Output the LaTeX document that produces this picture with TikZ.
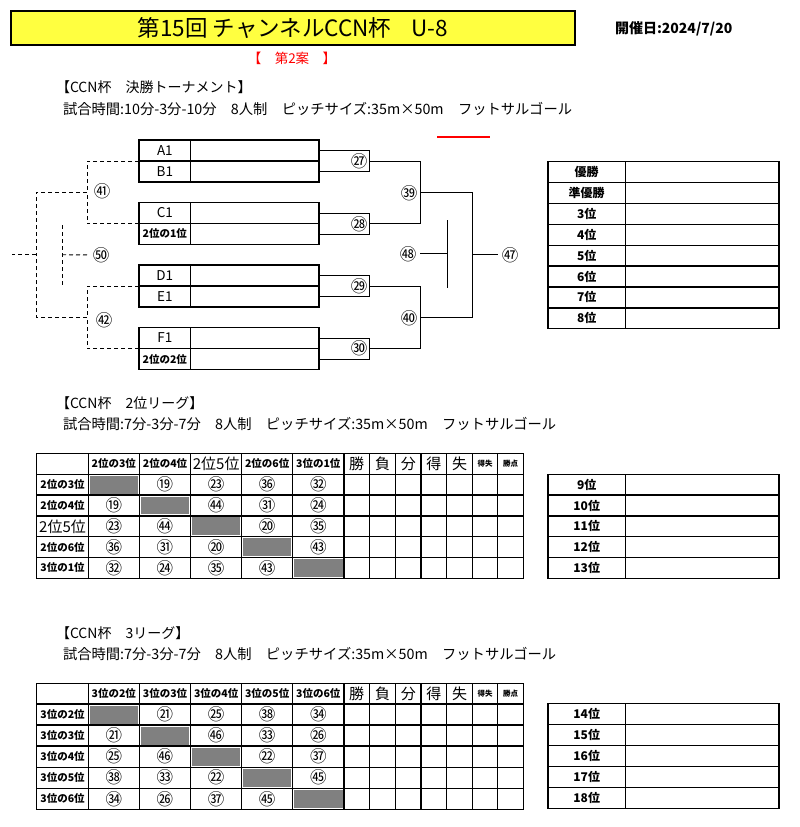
\documentclass[tikz,border=0pt]{standalone}
\usepackage{fontspec}
\setmainfont{Noto Sans CJK JP}
\newcommand\fs[1]{\fontsize{#1}{#1}\selectfont}
\definecolor{ttlyellow}{RGB}{255,255,64}
\definecolor{cellgray}{RGB}{128,128,128}
\begin{document}
\begin{tikzpicture}[x=1pt,y=-1pt,
  every node/.style={inner sep=0pt,outer sep=0pt},
  tlab/.style={draw,line width=1.5pt,minimum width=51.7pt,minimum height=21pt,font=\fs{13.5}},
  tblank/.style={draw,line width=1.5pt,minimum width=128.3pt,minimum height=21pt},
  slab/.style={draw,line width=1.4pt,minimum width=77.4pt,font=\fs{12}\bfseries},
  sblank/.style={draw,line width=1.4pt,minimum width=153.6pt},
  num/.style={font=\fs{16.5},inner sep=1pt},
  br/.style={line width=0.9pt},
  dsh/.style={line width=0.9pt,dash pattern=on 4pt off 3pt},
  tl/.style={line width=1.3pt},
  hd/.style={font=\fs{10.5}\bfseries},
  hb/.style={font=\fs{15}},
  hs/.style={font=\fs{7.5}\bfseries},
  txt/.style={anchor=west,font=\fs{14}},
  txtb/.style={anchor=west,font=\fs{14.3}}]
\useasboundingbox (0,0) rectangle (800,827);
\fill[white] (0,0) rectangle (800,827);

% ---------- title ----------
\node[draw,line width=1.2pt,fill=ttlyellow,minimum width=564pt,minimum height=34pt,font=\fs{22.5}] (title) at (293,28) {第15回 チャンネルCCN杯\hspace{0.9em}U-8};
\node[anchor=west,font=\fs{14}\bfseries] (date) at (615,28.5) {開催日:2024/7/20};
\node[text=red,font=\fs{13.5}] (plan) at (292,58) {【　第2案　】};
\draw[red,line width=2pt] (437,137) -- (490,137);

\node[txt] (h1) at (56,87) {【CCN杯　決勝トーナメント】};
\node[txtb] (h1b) at (63,109) {試合時間:10分-3分-10分　8人制　ピッチサイズ:35m×50m　フットサルゴール};

% ---------- tournament boxes ----------
\foreach \n/\y in {A1/150.5,B1/171.5,C1/213,D1/275.5,E1/296.5,F1/338}
  {\node[tlab] (L\n) at (164.85,\y) {\n};
   \node[tblank] (B\n) at (254.85,\y) {};}
\node[tlab,font=\fs{10.5}\bfseries] (LW1) at (164.85,234) {2位の1位};
\node[tblank] (BW1) at (254.85,234) {};
\node[tlab,font=\fs{10.5}\bfseries] (LW2) at (164.85,359) {2位の2位};
\node[tblank] (BW2) at (254.85,359) {};

% right bracket
\coordinate (k27) at (369,161);
\coordinate (k28) at (369,223.5);
\coordinate (k29) at (369,286);
\coordinate (k30) at (369,348.5);
\coordinate (k39) at (420,192.25);
\coordinate (k40) at (420,317.25);
\coordinate (k47) at (472,254.75);
\draw[br] (BA1.east) -| (k27); \draw[br] (BB1.east) -| (k27);
\draw[br] (BC1.east) -| (k28); \draw[br] (BW1.east) -| (k28);
\draw[br] (BD1.east) -| (k29); \draw[br] (BE1.east) -| (k29);
\draw[br] (BF1.east) -| (k30); \draw[br] (BW2.east) -| (k30);
\draw[br] (k27) -| (k39); \draw[br] (k28) -| (k39);
\draw[br] (k29) -| (k40); \draw[br] (k30) -| (k40);
\draw[br] (k39) -| (k47); \draw[br] (k40) -| (k47);
\node[num] (m27) at (359,161) {㉗};
\node[num] (m28) at (359,224) {㉘};
\node[num] (m29) at (359,286) {㉙};
\node[num] (m30) at (359,348.5) {㉚};
\node[num] (m39) at (409,193) {㊴};
\node[num] (m40) at (409,318) {㊵};
\node[num,inner sep=4pt] (m47) at (510,254.75) {㊼};
\draw[br] (k47) -- (m47);
\coordinate (k48) at (447,253);
\coordinate (k48a) at (447,220);
\coordinate (k48b) at (447,288);
\node[num,inner sep=4pt] (m48) at (408,254) {㊽};
\draw[br] (m48.east |- k48) -- (k48);
\draw[br] (k48a) -- (k48b);

% left dashed bracket
\coordinate (d41) at (87,192.25);
\coordinate (d42) at (87,317.25);
\coordinate (d0) at (36,254.75);
\coordinate (dend) at (12,254.75);
\draw[dsh] (LA1.south west) -| (d41); \draw[dsh] (LC1.south west) -| (d41);
\draw[dsh] (LD1.south west) -| (d42); \draw[dsh] (LF1.south west) -| (d42);
\draw[dsh] (d41) -| (d0); \draw[dsh] (d42) -| (d0);
\draw[dsh] (d0) -- (dend);
\node[num] (m41) at (102,191) {㊶};
\node[num] (m42) at (104,320) {㊷};
\coordinate (d50a) at (62,225);
\coordinate (d50b) at (62,287);
\coordinate (d50) at (62,254.75);
\draw[dsh] (d50a) -- (d50b);
\node[num,inner sep=4pt] (m50) at (101,255) {㊿};
\draw[dsh] (d50) -- (m50);

% final standings
\foreach \t [count=\i] in {優勝,準優勝,3位,4位,5位,6位,7位,8位}
  {\node[slab,minimum height=20.875pt] (sa\i) at (586.7,{161.7+(\i-0.5)*20.875}) {\t};
   \node[sblank,minimum height=20.875pt] (sab\i) at (702.2,{161.7+(\i-0.5)*20.875}) {};}

% ---------- 2位リーグ ----------
\node[txt] (h2) at (56,403) {【CCN杯　2位リーグ】};
\node[txtb] (h2b) at (63,424) {試合時間:7分-3分-7分　8人制　ピッチサイズ:35m×50m　フットサルゴール};

\foreach \xl/\xr/\yt/\yb in {88.3/139.3/474.3/495.1,139.3/190.7/495.1/515.9,190.7/241.7/515.9/536.7,241.7/292.7/536.7/557.5,292.7/344/557.5/578.3}
  \fill[cellgray] ({\xl+1.5},{\yt+1.5}) rectangle ({\xr-1.5},{\yb-1.5});
\draw[tl] (36.7,453.3) rectangle (523.3,578.3);
\foreach \x in {88.3,139.3,190.7,241.7,292.7,344,369.3,395.7,421,446.7,472.3,497.7}
  \draw[tl] (\x,453.3) -- (\x,578.3);
\foreach \y in {474.3,495.1,515.9,536.7,557.5}
  \draw[tl] (36.7,\y) -- (523.3,\y);
\node[hd] (ah1) at (113.8,463.8) {2位の3位};
\node[hd] (ah2) at (165,463.8) {2位の4位};
\node[hb] (ah3) at (216.2,463.8) {2位5位};
\node[hd] (ah4) at (267.2,463.8) {2位の6位};
\node[hd] (ah5) at (318.35,463.8) {3位の1位};
\foreach \t/\x [count=\j] in {勝/356.65,負/382.5,分/408.35,得/433.85,失/459.5}
  \node[hb] (ahs\j) at (\x,463.8) {\t};
\node[hs] (ahs6) at (485,463.8) {得失};
\node[hs] (ahs7) at (510.5,463.8) {勝点};
\node[hd] (ar1) at (62.5,484.7) {2位の3位};
\node[hd] (ar2) at (62.5,505.5) {2位の4位};
\node[hb] (ar3) at (62.5,526.3) {2位5位};
\node[hd] (ar4) at (62.5,547.1) {2位の6位};
\node[hd] (ar5) at (62.5,567.9) {3位の1位};
\foreach \j/\v in {2/⑲,3/㉓,4/㊱,5/㉜} \node[num] (a1-\j) at ({113.8+(\j-1)*51.14},484.7) {\v};
\foreach \j/\v in {1/⑲,3/㊹,4/㉛,5/㉔} \node[num] (a2-\j) at ({113.8+(\j-1)*51.14},505.5) {\v};
\foreach \j/\v in {1/㉓,2/㊹,4/⑳,5/㉟} \node[num] (a3-\j) at ({113.8+(\j-1)*51.14},526.3) {\v};
\foreach \j/\v in {1/㊱,2/㉛,3/⑳,5/㊸} \node[num] (a4-\j) at ({113.8+(\j-1)*51.14},547.1) {\v};
\foreach \j/\v in {1/㉜,2/㉔,3/㉟,4/㊸} \node[num] (a5-\j) at ({113.8+(\j-1)*51.14},567.9) {\v};

\foreach \t [count=\i] in {9位,10位,11位,12位,13位}
  {\node[slab,minimum height=20.8pt] (sb\i) at (586.7,{474.3+(\i-0.5)*20.8}) {\t};
   \node[sblank,minimum height=20.8pt] (sbb\i) at (702.2,{474.3+(\i-0.5)*20.8}) {};}

% ---------- 3リーグ ----------
\node[txt] (h3) at (56,633) {【CCN杯　3リーグ】};
\node[txtb] (h3b) at (63,654) {試合時間:7分-3分-7分　8人制　ピッチサイズ:35m×50m　フットサルゴール};

\foreach \xl/\xr/\yt/\yb in {88.3/139.3/704/725.06,139.3/190.7/725.06/746.12,190.7/241.7/746.12/767.18,241.7/292.7/767.18/788.24,292.7/344/788.24/809.3}
  \fill[cellgray] ({\xl+1.5},{\yt+1.5}) rectangle ({\xr-1.5},{\yb-1.5});
\draw[tl] (36.7,683.3) rectangle (523.3,809.3);
\foreach \x in {88.3,139.3,190.7,241.7,292.7,344,369.3,395.7,421,446.7,472.3,497.7}
  \draw[tl] (\x,683.3) -- (\x,809.3);
\foreach \y in {704,725.06,746.12,767.18,788.24}
  \draw[tl] (36.7,\y) -- (523.3,\y);
\foreach \t/\x [count=\j] in {3位の2位/113.8,3位の3位/165,3位の4位/216.2,3位の5位/267.2,3位の6位/318.35}
  \node[hd] (bh\j) at (\x,693.65) {\t};
\foreach \t/\x [count=\j] in {勝/356.65,負/382.5,分/408.35,得/433.85,失/459.5}
  \node[hb] (bhs\j) at (\x,693.65) {\t};
\node[hs] (bhs6) at (485,693.65) {得失};
\node[hs] (bhs7) at (510.5,693.65) {勝点};
\foreach \t/\y [count=\i] in {3位の2位/714.53,3位の3位/735.59,3位の4位/756.65,3位の5位/777.71,3位の6位/798.77}
  \node[hd] (br\i) at (62.5,\y) {\t};
\foreach \j/\v in {2/㉑,3/㉕,4/㊳,5/㉞} \node[num] (b1-\j) at ({113.8+(\j-1)*51.14},714.53) {\v};
\foreach \j/\v in {1/㉑,3/㊻,4/㉝,5/㉖} \node[num] (b2-\j) at ({113.8+(\j-1)*51.14},735.59) {\v};
\foreach \j/\v in {1/㉕,2/㊻,4/㉒,5/㊲} \node[num] (b3-\j) at ({113.8+(\j-1)*51.14},756.65) {\v};
\foreach \j/\v in {1/㊳,2/㉝,3/㉒,5/㊺} \node[num] (b4-\j) at ({113.8+(\j-1)*51.14},777.71) {\v};
\foreach \j/\v in {1/㉞,2/㉖,3/㊲,4/㊺} \node[num] (b5-\j) at ({113.8+(\j-1)*51.14},798.77) {\v};

\foreach \t [count=\i] in {14位,15位,16位,17位,18位}
  {\node[slab,minimum height=21pt] (sc\i) at (586.7,{703.3+(\i-0.5)*21}) {\t};
   \node[sblank,minimum height=21pt] (scb\i) at (702.2,{703.3+(\i-0.5)*21}) {};}
\end{tikzpicture}
\end{document}
